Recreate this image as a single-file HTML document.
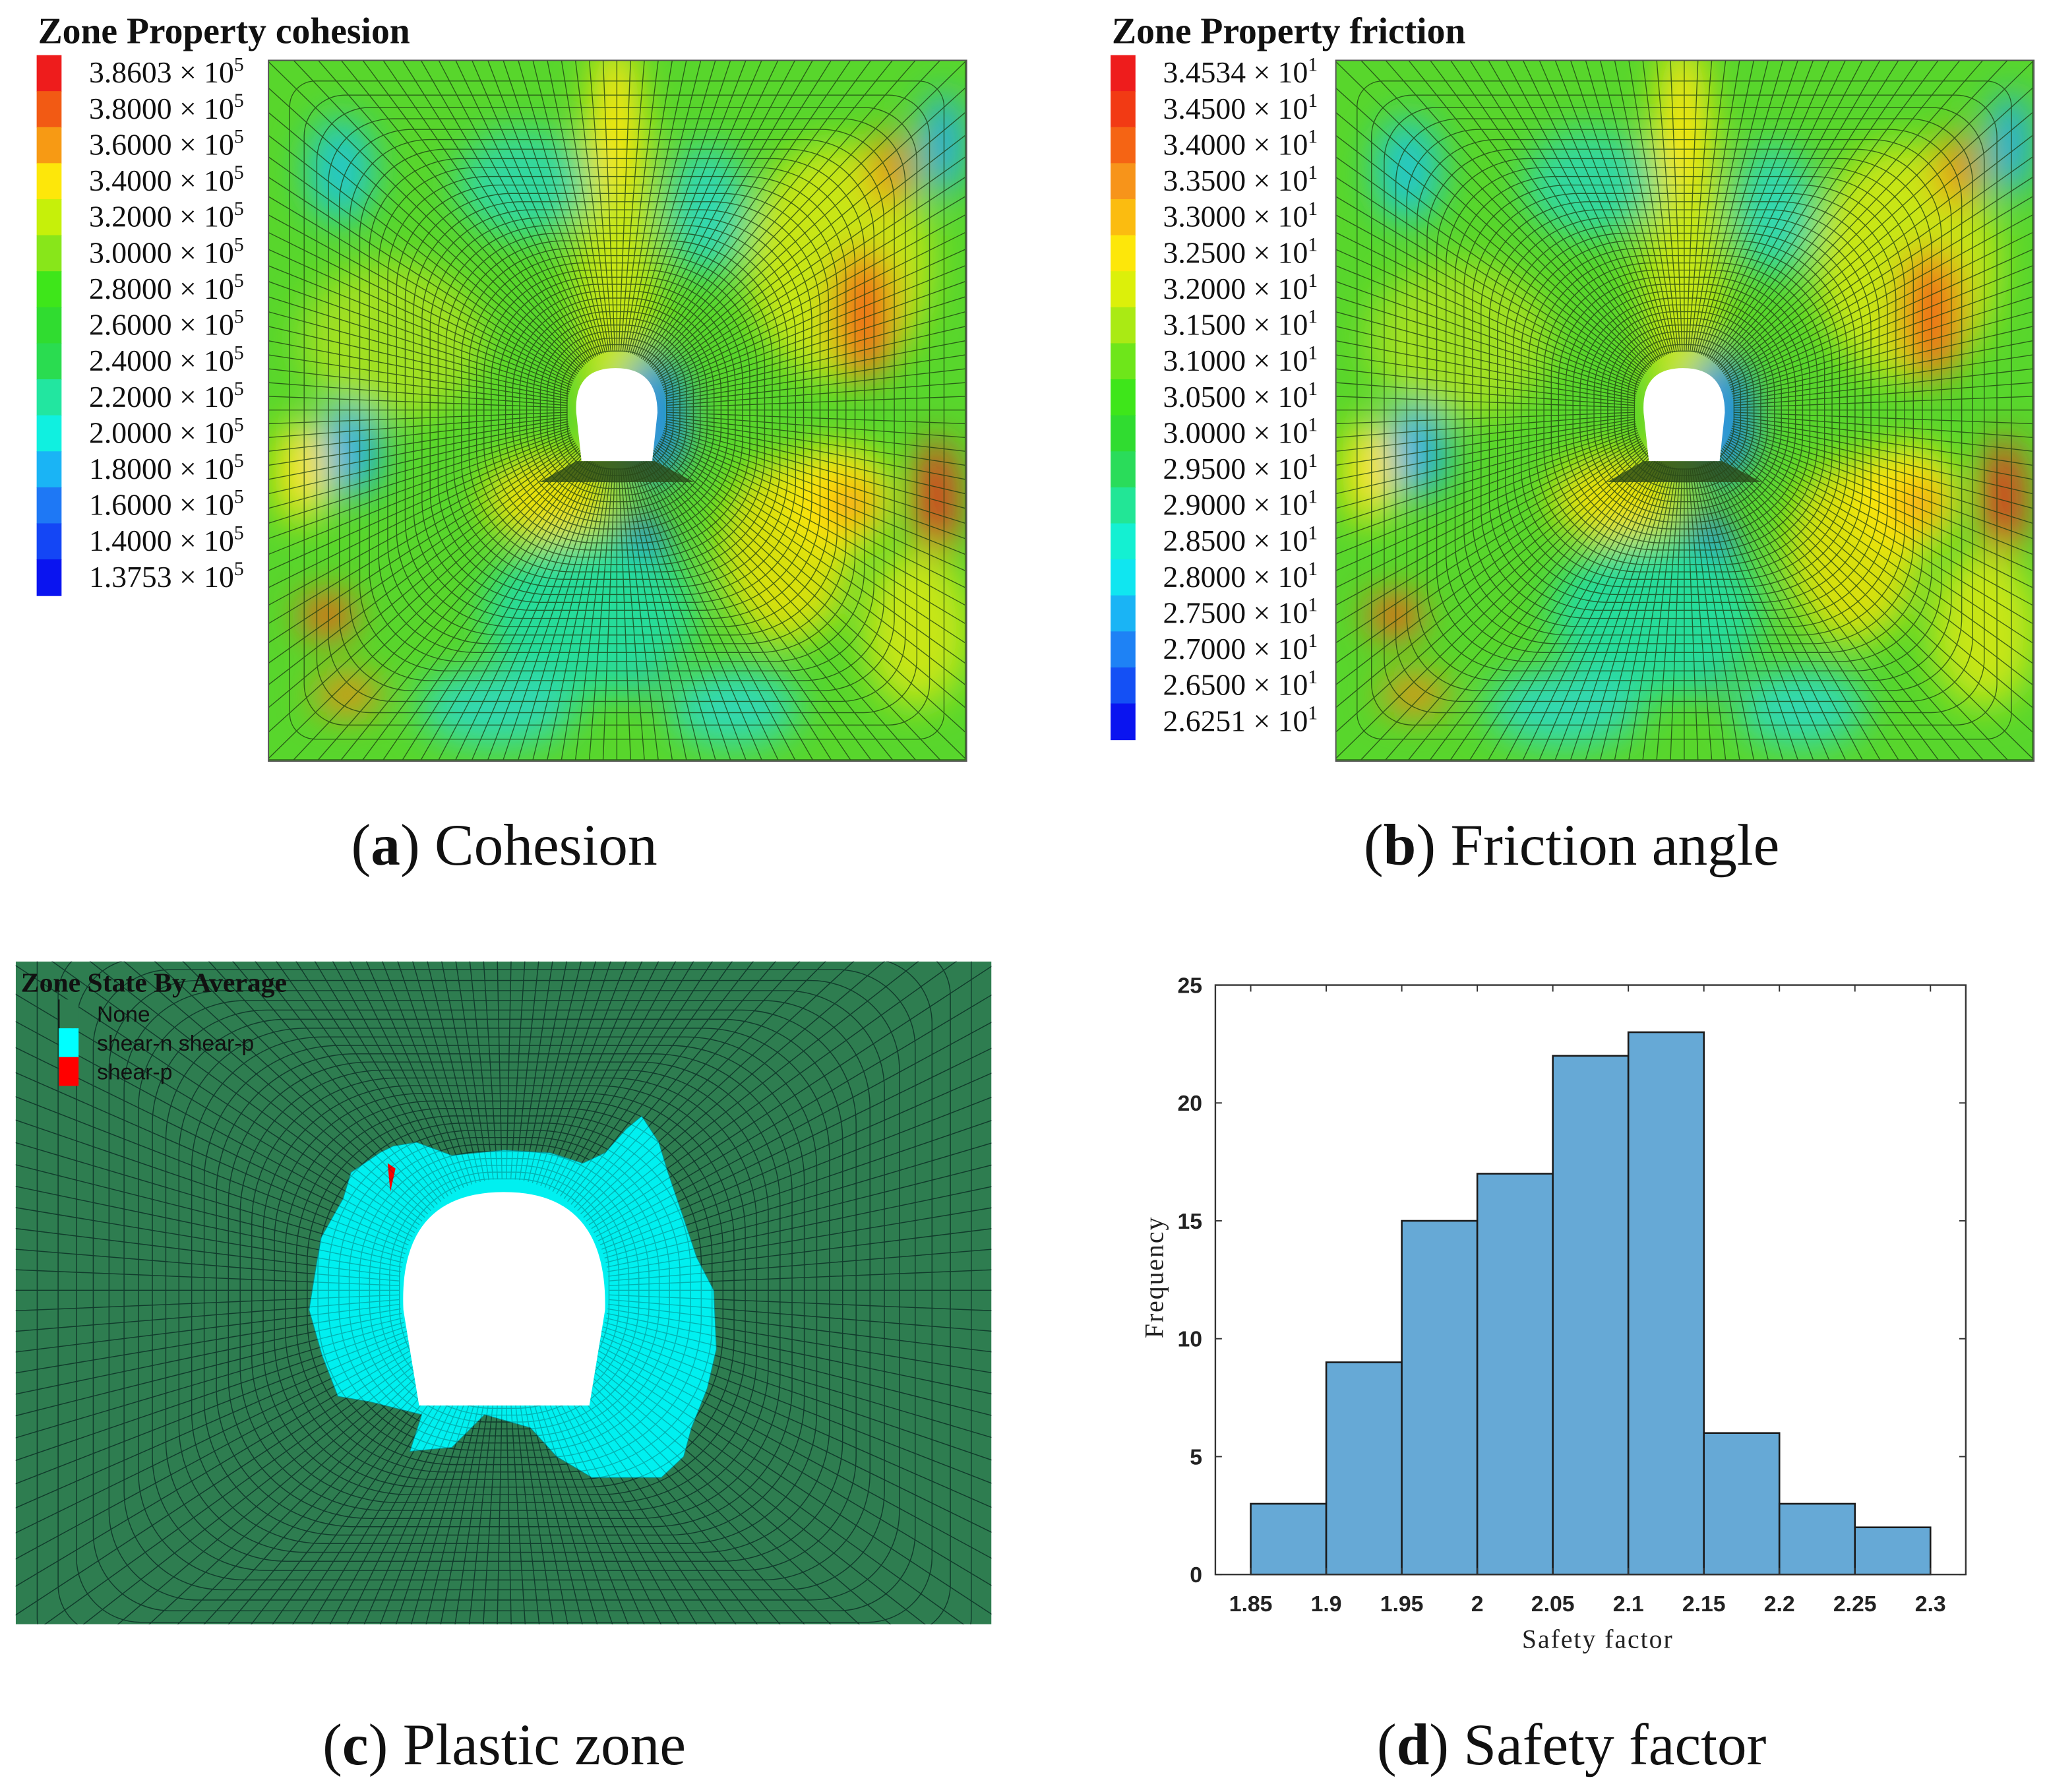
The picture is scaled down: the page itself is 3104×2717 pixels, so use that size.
<!DOCTYPE html>
<html><head><meta charset="utf-8"><style>
html,body{margin:0;padding:0;background:#fff;}
svg{display:block;}
</style></head><body>
<svg id="fig" xmlns="http://www.w3.org/2000/svg" width="3104" height="2717" viewBox="0 0 1563 1368">
<defs>
<filter id="blur" x="-50%" y="-50%" width="200%" height="200%"><feGaussianBlur stdDeviation="14"/></filter>
<clipPath id="clipA"><rect x="205" y="46" width="533" height="535"/></clipPath>
<clipPath id="clipB"><rect x="1020" y="46" width="533" height="535"/></clipPath>
<clipPath id="clipC"><rect x="12" y="734" width="745" height="506"/></clipPath>
</defs>
<rect width="1563" height="1368" fill="#fff"/>
<g id="panelA"></g>
<g id="panelB"></g>
<g id="panelC"></g>
<g id="panelD"></g>
<g font-family="'Liberation Serif', serif" font-size="45" fill="#111" text-anchor="middle">
<text x="385" y="660">(<tspan font-weight="bold">a</tspan>) Cohesion</text>
<text x="1200" y="660">(<tspan font-weight="bold">b</tspan>) Friction angle</text>
<text x="385" y="1347">(<tspan font-weight="bold">c</tspan>) Plastic zone</text>
<text x="1200" y="1347">(<tspan font-weight="bold">d</tspan>) Safety factor</text>
</g>
</svg>
<script>
const NS='http://www.w3.org/2000/svg';
// histogram data
const binEdges=[1.85,1.9,1.95,2,2.05,2.1,2.15,2.2,2.25,2.3];
const binCounts=[3,9,15,17,22,23,6,3,2];
const xTickLabels=['1.85','1.9','1.95','2','2.05','2.1','2.15','2.2','2.25','2.3'];
const yTicks=[0,5,10,15,20,25];
// legend data
const cohesionLabels=['3.8603','3.8000','3.6000','3.4000','3.2000','3.0000','2.8000','2.6000','2.4000','2.2000','2.0000','1.8000','1.6000','1.4000','1.3753'];
const cohesionColors=['#ee1c1c','#f25a14','#f79a14','#fde70a','#c6f00a','#88e61a','#3ee61a','#30dc30','#2adc50','#22e6a0','#10f0e0','#1ab4f5','#1e78f5','#1446f5','#0a14f0'];
const frictionLabels=['3.4534','3.4500','3.4000','3.3500','3.3000','3.2500','3.2000','3.1500','3.1000','3.0500','3.0000','2.9500','2.9000','2.8500','2.8000','2.7500','2.7000','2.6500','2.6251'];
const frictionColors=['#ee1c1c','#f23a14','#f56414','#f7941a','#fbbc10','#fde70a','#dcf00a','#aaea14','#6ee61a','#3ee61a','#30dc30','#2adc5a','#22e696','#14f0d2','#10e6f0','#1ab4f5','#1e82f5','#1450f5','#0a14f0'];

function el(tag,attrs,parent){const e=document.createElementNS(NS,tag);for(const k in attrs)e.setAttribute(k,attrs[k]);if(parent)parent.appendChild(e);return e;}

function mesh(g,cx,cy,hw,hh,iw,ih,rings,nr,stroke,op){
  const m=el('g',{stroke:stroke,'stroke-width':0.7,fill:'none',opacity:op},g);
  for(let i=0;i<=rings;i++){
    const t=Math.pow(i/rings,0.75);
    const w=hw+(iw-hw)*t,h=hh+(ih-hh)*t;
    const r=Math.min(w,h)*Math.min(0.9,t*1.1);
    el('rect',{x:cx-w,y:cy-h,width:2*w,height:2*h,rx:r,ry:r},m);
  }
  for(let i=0;i<nr;i++){
    const a=i/nr*2*Math.PI;
    const dx=Math.cos(a),dy=Math.sin(a);
    const s=Math.max(Math.abs(dx)/hw,Math.abs(dy)/hh);
    el('line',{x1:cx+dx/s,y1:cy+dy/s,x2:cx+dx*iw,y2:cy+dy*ih},m);
  }
}

function field(g,ox,clip){
  const c=el('g',{'clip-path':'url(#'+clip+')'},g);
  el('rect',{x:205+ox,y:46,width:533,height:535,fill:'#58d62c'},c);
  const blobs=[
    [470,200,30,150,'#c8e614'],[470,90,18,60,'#fde70a'],[300,260,70,60,'#a0e020'],[640,200,70,90,'#c8e614'],
    [420,380,50,35,'#e8e010'],[600,420,50,70,'#d8e010'],[640,380,40,40,'#fde70a'],
    [260,130,25,40,'#20c8c8'],[265,345,25,35,'#20b0e0'],[500,320,25,50,'#2090e0'],[490,460,25,70,'#2a70e0'],
    [450,470,80,60,'#28dc9a'],[540,160,30,50,'#30d8b0'],[400,140,50,40,'#30d8a0'],[720,110,15,40,'#20a8f0'],
    [380,540,60,30,'#30d8b0'],[560,540,50,30,'#30d8b0'],
    [660,240,22,50,'#f06418'],[680,130,15,30,'#f08a18'],[715,380,15,45,'#ee2a1a'],[650,385,15,15,'#f06418'],
    [250,470,20,18,'#f05a18'],[265,530,25,15,'#f08a18'],[230,360,20,40,'#fde70a'],[700,480,40,60,'#c8e614']
  ];
  const b=el('g',{filter:'url(#blur)'},c);
  blobs.forEach(p=>el('ellipse',{cx:p[0]+ox,cy:p[1],rx:p[2],ry:p[3],fill:p[4]},b));
  mesh(c,471+ox,313,266,267,38,45,34,160,'#1a3a10',0.75);
  el('path',{d:`M${440+ox},352 L${500+ox},352 L${530+ox},368 L${412+ox},368 Z`,fill:'#2a4a18',opacity:0.8},c);
  el('path',{d:`M${444+ox},352 L${440+ox},315 Q${438+ox},281 ${470+ox},281 Q${502+ox},281 ${502+ox},315 L${498+ox},352 Z`,fill:'#fff'},c);
  el('rect',{x:205+ox,y:46,width:533,height:535,fill:'none',stroke:'#555','stroke-width':1},g);
}

function legend(g,x,y0,labels,colors,exp,title){
  const t=el('text',{x:x+1,y:33,'font-family':"'Liberation Serif', serif",'font-weight':'bold','font-size':28,fill:'#111'},g);
  t.textContent=title;
  
  
  const step=27.5;
  colors.forEach((c,i)=>{
    const r=el('rect',{x:x,y:y0+i*step,width:19,height:step+0.5,fill:c},g);
    
    
  });
  labels.forEach((l,i)=>{
    const tx=el('text',{x:x+40,y:y0+21+i*step,'font-family':"'Liberation Serif', serif",'font-size':23,fill:'#111'},g);
    tx.innerHTML=l+' × 10<tspan dy="-9" font-size="15">'+exp+'</tspan>';
    
    
  });
}

const A=document.getElementById('panelA');
field(A,0,'clipA');
legend(A,28,42,cohesionLabels,cohesionColors,'5','Zone Property cohesion');
const B=document.getElementById('panelB');
field(B,815,'clipB');
legend(B,848,42,frictionLabels,frictionColors,'1','Zone Property friction');

// panel C
const C=document.getElementById('panelC');
const cc=el('g',{'clip-path':'url(#clipC)'},C);
el('rect',{x:12,y:734,width:745,height:506,fill:'#2e7d50'},cc);
mesh(cc,385,985,380,290,80,85,30,150,'#12301c',0.85);
const cyan=el('polygon',{fill:'#00f0f0',stroke:'#0a8a8a','stroke-width':0.5,points:'240,975 245,945 262,915 268,895 290,880 300,875 318,872 345,882 385,878 420,880 445,888 462,880 478,862 490,852 503,872 510,895 522,930 532,960 545,985 547,1030 540,1060 528,1090 522,1112 505,1128 452,1128 425,1112 405,1090 370,1080 345,1105 313,1108 322,1080 282,1070 258,1066 246,1035 236,1000'},cc);


el('path',{d:'M298,910 L302,892 L296,888 Z',fill:'#ff0000'},cc);
mesh(cc,385,985,380,290,80,85,30,150,'#0a4040',0.35);
el('path',{d:'M320,1073 L308,1000 Q304,910 385,910 Q464,910 462,1000 L450,1073 Z',fill:'#fff'},cc);
el('text',{x:16,y:757,'font-family':"'Liberation Serif', serif",'font-weight':'bold','font-size':21,fill:'#111'},C).textContent='Zone State By Average';
[['#2e7d50','None'],['#00ffff','shear-n shear-p'],['#ff0000','shear-p']].forEach((p,i)=>{
  const r=el('rect',{x:45,y:763+i*22,width:15,height:22,fill:p[0]},C);
  
  
  const t=el('text',{x:74,y:780+i*22,'font-family':"'Liberation Sans', sans-serif",'font-size':17,fill:'#111'},C);
  t.textContent=p[1];
  
  
});
el('line',{x1:45,y1:763,x2:45,y2:785,stroke:'#111','stroke-width':1},C);

// panel D histogram
const D=document.getElementById('panelD');
const X0=928,X1=1501,Y0=1202,Y1=752;
const xs=v=>955+(v-1.85)/(2.3-1.85)*(1474-955);
const ys=v=>Y0-v/25*(Y0-Y1);
binCounts.forEach((c,i)=>{
  const r=el('rect',{x:xs(binEdges[i]),y:ys(c),width:xs(binEdges[i+1])-xs(binEdges[i]),height:ys(0)-ys(c),fill:'#66a9d6',stroke:'#1a1a1a','stroke-width':1.3},D);
  
  
});
el('rect',{x:X0,y:Y1,width:X1-X0,height:Y0-Y1,fill:'none',stroke:'#333','stroke-width':1.2},D);
xTickLabels.forEach((l,i)=>{
  const x=xs(binEdges[i]);
  el('line',{x1:x,y1:Y1,x2:x,y2:Y1+5,stroke:'#333'},D);
  el('line',{x1:x,y1:Y0,x2:x,y2:Y0-5,stroke:'#333'},D);
  const t=el('text',{x:x,y:Y0+28,'text-anchor':'middle','font-family':"'Liberation Sans', sans-serif",'font-weight':'bold','font-size':17,fill:'#222'},D);
  t.textContent=l;
  
  
});
yTicks.forEach(v=>{
  const y=ys(v);
  el('line',{x1:X0,y1:y,x2:X0+5,y2:y,stroke:'#333'},D);
  el('line',{x1:X1,y1:y,x2:X1-5,y2:y,stroke:'#333'},D);
  const t=el('text',{x:X0-10,y:y+6,'text-anchor':'end','font-family':"'Liberation Sans', sans-serif",'font-weight':'bold','font-size':17,fill:'#222'},D);
  t.textContent=v;
  
  
});
const xt=el('text',{x:1220,y:1258,'text-anchor':'middle','font-family':"'Liberation Serif', serif",'font-size':20,fill:'#222','letter-spacing':1},D);
xt.textContent='Safety factor';


const yt=el('text',{x:0,y:0,transform:'translate(888,975) rotate(-90)','text-anchor':'middle','font-family':"'Liberation Serif', serif",'font-size':20,fill:'#222','letter-spacing':1},D);
yt.textContent='Frequency';


</script>
</body></html>
